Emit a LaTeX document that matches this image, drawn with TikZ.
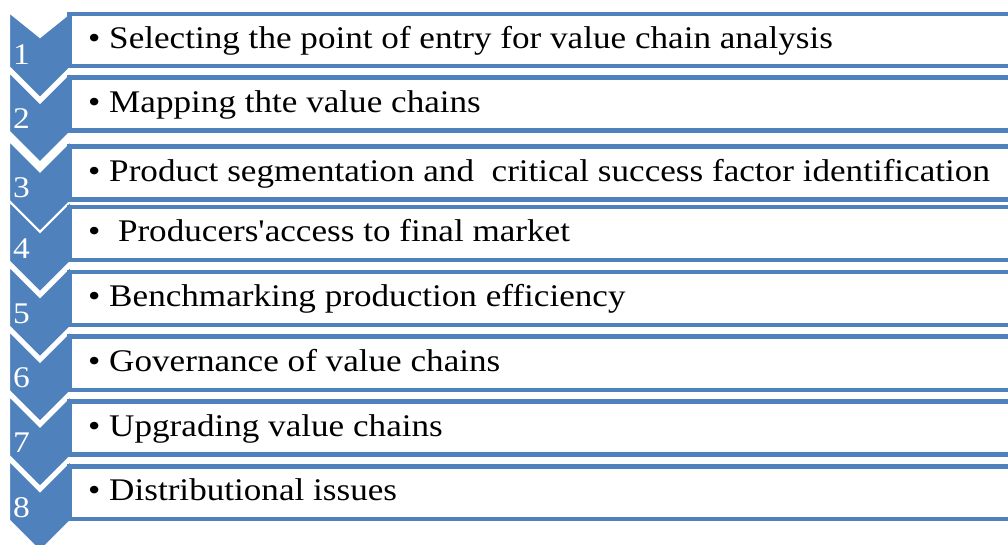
\documentclass[tikz,border=0pt]{standalone}
\usepackage{fontspec}
\newfontfamily\itemfont{Liberation Serif}[FakeStretch=1.115]
\definecolor{chevblue}{HTML}{4F81BD}
\begin{document}
\begin{tikzpicture}[x=1pt,y=-1pt,
  chevron/.style={fill=chevblue,draw=white,line width=2pt,line join=miter},
  itembox/.style={draw=chevblue,fill=white,line width=4.5pt},
  numlabel/.style={text=white,font=\itemfont\fontsize{30}{34}\selectfont,anchor=base west,inner sep=0pt},
  itemlabel/.style={text=black,font=\itemfont\fontsize{31.5}{36}\selectfont,anchor=base west,inner sep=0pt}]
\useasboundingbox (0,0) rectangle (1008,544);
\clip (0,0) rectangle (1008,544);
% step chevrons: top edge, notch depth, box top, box bottom
\foreach \i/\ct/\nd/\bt/\bb in {1/12/25/14/66, 2/71.7/31/77.7/130.5, 3/140.5/31/146.5/199.7,
    4/201/31/207/260.2, 5/266/31/272/325.2, 6/330.7/31/336.7/389.8,
    7/395.5/31/401.5/454.7, 8/460.3/31/466.3/519.2}{
  \path[chevron] (9,\ct) -- (40,\ct+\nd) -- (71,\ct) -- (71,\bb+1)
    -- (40,\bb+32) -- (9,\bb+1) -- cycle;
  \node[numlabel] (n\i) at (13,\bb-2) {\i};
}
% item boxes
\foreach \i/\bt/\bb in {1/14/66, 2/77.7/130.5, 3/146.5/199.7, 4/207/260.2,
    5/272/325.2, 6/336.7/389.8, 7/401.5/454.7, 8/466.3/519.2}{
  \path[itembox] (69.5,\bt) rectangle (1020,\bb);
  \coordinate (c\i) at (88,{(\bt+\bb)/2+8});
}
\node[itemlabel] (t1) at (c1) {•\ Selecting the point of entry for value chain analysis};
\node[itemlabel] (t2) at (c2) {•\ Mapping thte value chains};
\node[itemlabel] (t3) at (c3) {•\ Product segmentation and\ \ critical success factor identification};
\node[itemlabel] (t4) at (c4) {•\ \ Producers'access to final market};
\node[itemlabel] (t5) at (c5) {•\ Benchmarking production efficiency};
\node[itemlabel] (t6) at (c6) {•\ Governance of value chains};
\node[itemlabel] (t7) at (c7) {•\ Upgrading value chains};
\node[itemlabel] (t8) at (c8) {•\ Distributional issues};
\end{tikzpicture}
\end{document}
